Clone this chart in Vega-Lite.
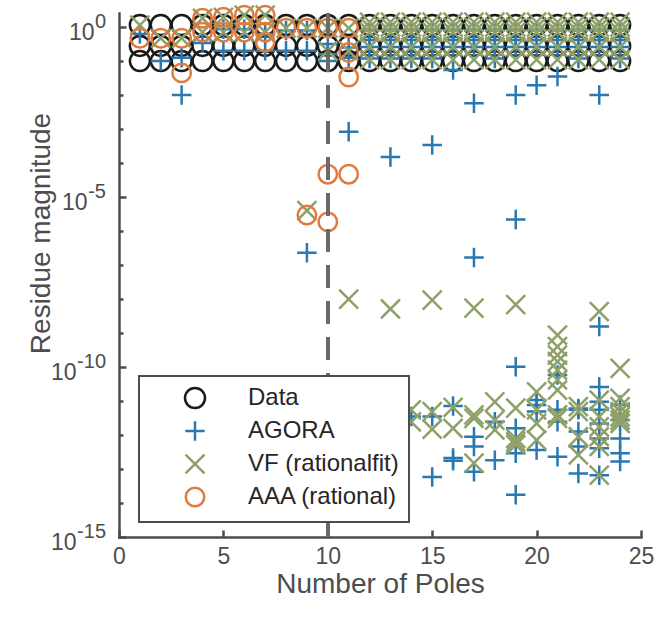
{
  "$schema": "https://vega.github.io/schema/vega-lite/v6.json",
  "width": 522,
  "height": 524,
  "autosize": {"type": "none"},
  "padding": {"left": 119, "top": 13, "right": 15, "bottom": 84},
  "background": "white",
  "config": {
    "view": {"stroke": null},
    "font": "Liberation Sans",
    "axis": {
      "domainColor": "#4d4d4d", "domainWidth": 2.5, "domainCap": "square",
      "tickColor": "#4d4d4d", "tickWidth": 2.5,
      "labelColor": "#4d4d4d", "labelFont": "Liberation Sans", "labelFontSize": 23,
      "titleColor": "#4d4d4d", "titleFont": "Liberation Sans", "titleFontSize": 28, "titleFontWeight": "normal",
      "labelFlush": false,
      "grid": false
    },
    "legend": {
      "orient": "none", "legendX": 20, "legendY": 363,
      "fillColor": "white", "strokeColor": "#4d4d4d", "strokeWidth": 2,
      "padding": 10, "rowPadding": 3,
      "symbolOffset": 34, "labelOffset": 41,
      "labelFont": "Liberation Sans", "labelFontSize": 24, "labelColor": "#262626",
      "symbolSize": 400, "symbolStrokeWidth": 2.5, "symbolFillColor": "transparent"
    }
  },
  "data": {"values": [
    {"poles":1,"method":"Data","residue":1.15},{"poles":1,"method":"Data","residue":0.28},{"poles":1,"method":"Data","residue":0.1},
    {"poles":2,"method":"Data","residue":1.15},{"poles":2,"method":"Data","residue":0.28},{"poles":2,"method":"Data","residue":0.1},
    {"poles":3,"method":"Data","residue":1.15},{"poles":3,"method":"Data","residue":0.28},{"poles":3,"method":"Data","residue":0.1},
    {"poles":4,"method":"Data","residue":1.15},{"poles":4,"method":"Data","residue":0.28},{"poles":4,"method":"Data","residue":0.1},
    {"poles":5,"method":"Data","residue":1.15},{"poles":5,"method":"Data","residue":0.28},{"poles":5,"method":"Data","residue":0.1},
    {"poles":6,"method":"Data","residue":1.15},{"poles":6,"method":"Data","residue":0.28},{"poles":6,"method":"Data","residue":0.1},
    {"poles":7,"method":"Data","residue":1.15},{"poles":7,"method":"Data","residue":0.28},{"poles":7,"method":"Data","residue":0.1},
    {"poles":8,"method":"Data","residue":1.15},{"poles":8,"method":"Data","residue":0.28},{"poles":8,"method":"Data","residue":0.1},
    {"poles":9,"method":"Data","residue":1.15},{"poles":9,"method":"Data","residue":0.28},{"poles":9,"method":"Data","residue":0.1},
    {"poles":10,"method":"Data","residue":1.15},{"poles":10,"method":"Data","residue":0.28},{"poles":10,"method":"Data","residue":0.1},
    {"poles":11,"method":"Data","residue":1.15},{"poles":11,"method":"Data","residue":0.28},{"poles":11,"method":"Data","residue":0.1},
    {"poles":12,"method":"Data","residue":1.15},{"poles":12,"method":"Data","residue":0.28},{"poles":12,"method":"Data","residue":0.1},
    {"poles":13,"method":"Data","residue":1.15},{"poles":13,"method":"Data","residue":0.28},{"poles":13,"method":"Data","residue":0.1},
    {"poles":14,"method":"Data","residue":1.15},{"poles":14,"method":"Data","residue":0.28},{"poles":14,"method":"Data","residue":0.1},
    {"poles":15,"method":"Data","residue":1.15},{"poles":15,"method":"Data","residue":0.28},{"poles":15,"method":"Data","residue":0.1},
    {"poles":16,"method":"Data","residue":1.15},{"poles":16,"method":"Data","residue":0.28},{"poles":16,"method":"Data","residue":0.1},
    {"poles":17,"method":"Data","residue":1.15},{"poles":17,"method":"Data","residue":0.28},{"poles":17,"method":"Data","residue":0.1},
    {"poles":18,"method":"Data","residue":1.15},{"poles":18,"method":"Data","residue":0.28},{"poles":18,"method":"Data","residue":0.1},
    {"poles":19,"method":"Data","residue":1.15},{"poles":19,"method":"Data","residue":0.28},{"poles":19,"method":"Data","residue":0.1},
    {"poles":20,"method":"Data","residue":1.15},{"poles":20,"method":"Data","residue":0.28},{"poles":20,"method":"Data","residue":0.1},
    {"poles":21,"method":"Data","residue":1.15},{"poles":21,"method":"Data","residue":0.28},{"poles":21,"method":"Data","residue":0.1},
    {"poles":22,"method":"Data","residue":1.15},{"poles":22,"method":"Data","residue":0.28},{"poles":22,"method":"Data","residue":0.1},
    {"poles":23,"method":"Data","residue":1.15},{"poles":23,"method":"Data","residue":0.28},{"poles":23,"method":"Data","residue":0.1},
    {"poles":24,"method":"Data","residue":1.15},{"poles":24,"method":"Data","residue":0.28},{"poles":24,"method":"Data","residue":0.1},

    {"poles":1,"method":"AGORA","residue":0.63},
    {"poles":2,"method":"AGORA","residue":0.1},
    {"poles":3,"method":"AGORA","residue":0.126},{"poles":3,"method":"AGORA","residue":0.01},
    {"poles":4,"method":"AGORA","residue":0.34},
    {"poles":5,"method":"AGORA","residue":0.2},{"poles":5,"method":"AGORA","residue":0.87},
    {"poles":6,"method":"AGORA","residue":0.2},{"poles":6,"method":"AGORA","residue":0.87},
    {"poles":7,"method":"AGORA","residue":0.2},{"poles":7,"method":"AGORA","residue":0.63},
    {"poles":8,"method":"AGORA","residue":0.2},{"poles":8,"method":"AGORA","residue":0.79},
    {"poles":9,"method":"AGORA","residue":0.2},{"poles":9,"method":"AGORA","residue":0.79},{"poles":9,"method":"AGORA","residue":2.3e-7},
    {"poles":10,"method":"AGORA","residue":0.32},{"poles":10,"method":"AGORA","residue":0.16},{"poles":10,"method":"AGORA","residue":0.1},
    {"poles":11,"method":"AGORA","residue":0.25},{"poles":11,"method":"AGORA","residue":0.126},{"poles":11,"method":"AGORA","residue":8.3e-4},
    {"poles":12,"method":"AGORA","residue":0.8},{"poles":12,"method":"AGORA","residue":0.42},{"poles":12,"method":"AGORA","residue":0.26},{"poles":12,"method":"AGORA","residue":0.12},
    {"poles":13,"method":"AGORA","residue":0.8},{"poles":13,"method":"AGORA","residue":0.42},{"poles":13,"method":"AGORA","residue":0.26},{"poles":13,"method":"AGORA","residue":0.12},{"poles":13,"method":"AGORA","residue":1.5e-4},
    {"poles":14,"method":"AGORA","residue":0.8},{"poles":14,"method":"AGORA","residue":0.42},{"poles":14,"method":"AGORA","residue":0.26},{"poles":14,"method":"AGORA","residue":0.12},{"poles":14,"method":"AGORA","residue":3.5e-12},
    {"poles":15,"method":"AGORA","residue":0.8},{"poles":15,"method":"AGORA","residue":0.42},{"poles":15,"method":"AGORA","residue":0.26},{"poles":15,"method":"AGORA","residue":0.12},{"poles":15,"method":"AGORA","residue":3.4e-4},{"poles":15,"method":"AGORA","residue":3.5e-12},{"poles":15,"method":"AGORA","residue":5.8e-14},
    {"poles":16,"method":"AGORA","residue":0.8},{"poles":16,"method":"AGORA","residue":0.42},{"poles":16,"method":"AGORA","residue":0.26},{"poles":16,"method":"AGORA","residue":0.055},{"poles":16,"method":"AGORA","residue":7.1e-12},{"poles":16,"method":"AGORA","residue":2.1e-13},{"poles":16,"method":"AGORA","residue":1.74e-13},
    {"poles":17,"method":"AGORA","residue":0.8},{"poles":17,"method":"AGORA","residue":0.42},{"poles":17,"method":"AGORA","residue":0.26},{"poles":17,"method":"AGORA","residue":5.8e-3},{"poles":17,"method":"AGORA","residue":1.66e-7},{"poles":17,"method":"AGORA","residue":8.9e-13},{"poles":17,"method":"AGORA","residue":4.6e-13},{"poles":17,"method":"AGORA","residue":8.3e-14},
    {"poles":18,"method":"AGORA","residue":0.8},{"poles":18,"method":"AGORA","residue":0.42},{"poles":18,"method":"AGORA","residue":0.26},{"poles":18,"method":"AGORA","residue":0.12},{"poles":18,"method":"AGORA","residue":2.45e-12},{"poles":18,"method":"AGORA","residue":1.8e-13},
    {"poles":19,"method":"AGORA","residue":0.8},{"poles":19,"method":"AGORA","residue":0.42},{"poles":19,"method":"AGORA","residue":0.26},{"poles":19,"method":"AGORA","residue":0.01},{"poles":19,"method":"AGORA","residue":2.2e-6},{"poles":19,"method":"AGORA","residue":1.02e-10},{"poles":19,"method":"AGORA","residue":1.58e-12},{"poles":19,"method":"AGORA","residue":2.9e-13},{"poles":19,"method":"AGORA","residue":1.74e-14},
    {"poles":20,"method":"AGORA","residue":0.8},{"poles":20,"method":"AGORA","residue":0.42},{"poles":20,"method":"AGORA","residue":0.26},{"poles":20,"method":"AGORA","residue":0.0195},{"poles":20,"method":"AGORA","residue":1.07e-11},{"poles":20,"method":"AGORA","residue":7.6e-12},{"poles":20,"method":"AGORA","residue":4.9e-12},{"poles":20,"method":"AGORA","residue":3.6e-13},
    {"poles":21,"method":"AGORA","residue":0.8},{"poles":21,"method":"AGORA","residue":0.42},{"poles":21,"method":"AGORA","residue":0.26},{"poles":21,"method":"AGORA","residue":0.035},{"poles":21,"method":"AGORA","residue":5.8e-11},{"poles":21,"method":"AGORA","residue":5.5e-12},{"poles":21,"method":"AGORA","residue":2.45e-12},{"poles":21,"method":"AGORA","residue":2.3e-13},
    {"poles":22,"method":"AGORA","residue":0.8},{"poles":22,"method":"AGORA","residue":0.42},{"poles":22,"method":"AGORA","residue":0.26},{"poles":22,"method":"AGORA","residue":0.12},{"poles":22,"method":"AGORA","residue":6.0e-12},{"poles":22,"method":"AGORA","residue":5.5e-12},{"poles":22,"method":"AGORA","residue":1.26e-12},{"poles":22,"method":"AGORA","residue":4.6e-13},{"poles":22,"method":"AGORA","residue":7.4e-14},
    {"poles":23,"method":"AGORA","residue":0.8},{"poles":23,"method":"AGORA","residue":0.42},{"poles":23,"method":"AGORA","residue":0.26},{"poles":23,"method":"AGORA","residue":0.01},{"poles":23,"method":"AGORA","residue":1.55e-9},{"poles":23,"method":"AGORA","residue":2.6e-11},{"poles":23,"method":"AGORA","residue":9.5e-12},{"poles":23,"method":"AGORA","residue":5.5e-12},{"poles":23,"method":"AGORA","residue":2.2e-12},{"poles":23,"method":"AGORA","residue":7.9e-13},{"poles":23,"method":"AGORA","residue":4.1e-13},{"poles":23,"method":"AGORA","residue":6.6e-14},
    {"poles":24,"method":"AGORA","residue":0.8},{"poles":24,"method":"AGORA","residue":0.42},{"poles":24,"method":"AGORA","residue":0.26},{"poles":24,"method":"AGORA","residue":0.12},{"poles":24,"method":"AGORA","residue":7.6e-12},{"poles":24,"method":"AGORA","residue":2.75e-12},{"poles":24,"method":"AGORA","residue":7.9e-13},{"poles":24,"method":"AGORA","residue":2.9e-13},{"poles":24,"method":"AGORA","residue":1.66e-13},

    {"poles":1,"method":"VF (rationalfit)","residue":1.15},
    {"poles":2,"method":"VF (rationalfit)","residue":0.47},
    {"poles":3,"method":"VF (rationalfit)","residue":0.47},
    {"poles":4,"method":"VF (rationalfit)","residue":1.82},{"poles":4,"method":"VF (rationalfit)","residue":0.71},
    {"poles":5,"method":"VF (rationalfit)","residue":1.95},{"poles":5,"method":"VF (rationalfit)","residue":0.71},
    {"poles":6,"method":"VF (rationalfit)","residue":2.24},{"poles":6,"method":"VF (rationalfit)","residue":0.71},
    {"poles":7,"method":"VF (rationalfit)","residue":2.24},{"poles":7,"method":"VF (rationalfit)","residue":0.71},
    {"poles":8,"method":"VF (rationalfit)","residue":0.93},
    {"poles":9,"method":"VF (rationalfit)","residue":0.93},{"poles":9,"method":"VF (rationalfit)","residue":4.0e-6},
    {"poles":10,"method":"VF (rationalfit)","residue":0.93},{"poles":10,"method":"VF (rationalfit)","residue":0.2},
    {"poles":11,"method":"VF (rationalfit)","residue":0.93},{"poles":11,"method":"VF (rationalfit)","residue":0.2},{"poles":11,"method":"VF (rationalfit)","residue":1e-8},
    {"poles":12,"method":"VF (rationalfit)","residue":1.4},{"poles":12,"method":"VF (rationalfit)","residue":1.0},{"poles":12,"method":"VF (rationalfit)","residue":0.71},{"poles":12,"method":"VF (rationalfit)","residue":0.26},{"poles":12,"method":"VF (rationalfit)","residue":0.11},
    {"poles":13,"method":"VF (rationalfit)","residue":1.4},{"poles":13,"method":"VF (rationalfit)","residue":1.0},{"poles":13,"method":"VF (rationalfit)","residue":0.71},{"poles":13,"method":"VF (rationalfit)","residue":0.26},{"poles":13,"method":"VF (rationalfit)","residue":0.11},{"poles":13,"method":"VF (rationalfit)","residue":5.1e-9},
    {"poles":14,"method":"VF (rationalfit)","residue":1.4},{"poles":14,"method":"VF (rationalfit)","residue":1.0},{"poles":14,"method":"VF (rationalfit)","residue":0.71},{"poles":14,"method":"VF (rationalfit)","residue":0.26},{"poles":14,"method":"VF (rationalfit)","residue":0.11},{"poles":14,"method":"VF (rationalfit)","residue":5.5e-12},{"poles":14,"method":"VF (rationalfit)","residue":2.45e-12},
    {"poles":15,"method":"VF (rationalfit)","residue":1.4},{"poles":15,"method":"VF (rationalfit)","residue":1.0},{"poles":15,"method":"VF (rationalfit)","residue":0.71},{"poles":15,"method":"VF (rationalfit)","residue":0.26},{"poles":15,"method":"VF (rationalfit)","residue":0.11},{"poles":15,"method":"VF (rationalfit)","residue":9.3e-9},{"poles":15,"method":"VF (rationalfit)","residue":4.9e-12},{"poles":15,"method":"VF (rationalfit)","residue":1.48e-12},
    {"poles":16,"method":"VF (rationalfit)","residue":1.4},{"poles":16,"method":"VF (rationalfit)","residue":1.0},{"poles":16,"method":"VF (rationalfit)","residue":0.71},{"poles":16,"method":"VF (rationalfit)","residue":0.26},{"poles":16,"method":"VF (rationalfit)","residue":0.11},{"poles":16,"method":"VF (rationalfit)","residue":6.5e-12},{"poles":16,"method":"VF (rationalfit)","residue":1.58e-12},
    {"poles":17,"method":"VF (rationalfit)","residue":1.4},{"poles":17,"method":"VF (rationalfit)","residue":1.0},{"poles":17,"method":"VF (rationalfit)","residue":0.71},{"poles":17,"method":"VF (rationalfit)","residue":0.26},{"poles":17,"method":"VF (rationalfit)","residue":0.11},{"poles":17,"method":"VF (rationalfit)","residue":5.4e-9},{"poles":17,"method":"VF (rationalfit)","residue":3.9e-12},{"poles":17,"method":"VF (rationalfit)","residue":3.1e-12},{"poles":17,"method":"VF (rationalfit)","residue":1.48e-13},
    {"poles":18,"method":"VF (rationalfit)","residue":1.4},{"poles":18,"method":"VF (rationalfit)","residue":1.0},{"poles":18,"method":"VF (rationalfit)","residue":0.71},{"poles":18,"method":"VF (rationalfit)","residue":0.26},{"poles":18,"method":"VF (rationalfit)","residue":0.11},{"poles":18,"method":"VF (rationalfit)","residue":9.5e-12},{"poles":18,"method":"VF (rationalfit)","residue":2.75e-12},{"poles":18,"method":"VF (rationalfit)","residue":1.41e-12},
    {"poles":19,"method":"VF (rationalfit)","residue":1.4},{"poles":19,"method":"VF (rationalfit)","residue":1.0},{"poles":19,"method":"VF (rationalfit)","residue":0.71},{"poles":19,"method":"VF (rationalfit)","residue":0.26},{"poles":19,"method":"VF (rationalfit)","residue":0.11},{"poles":19,"method":"VF (rationalfit)","residue":6.9e-9},{"poles":19,"method":"VF (rationalfit)","residue":6.2e-12},{"poles":19,"method":"VF (rationalfit)","residue":7.9e-13},{"poles":19,"method":"VF (rationalfit)","residue":6.3e-13},{"poles":19,"method":"VF (rationalfit)","residue":5.1e-13},
    {"poles":20,"method":"VF (rationalfit)","residue":1.4},{"poles":20,"method":"VF (rationalfit)","residue":1.0},{"poles":20,"method":"VF (rationalfit)","residue":0.71},{"poles":20,"method":"VF (rationalfit)","residue":0.26},{"poles":20,"method":"VF (rationalfit)","residue":0.11},{"poles":20,"method":"VF (rationalfit)","residue":1.86e-11},{"poles":20,"method":"VF (rationalfit)","residue":5.5e-12},{"poles":20,"method":"VF (rationalfit)","residue":2.2e-12},{"poles":20,"method":"VF (rationalfit)","residue":7.1e-13},
    {"poles":21,"method":"VF (rationalfit)","residue":1.4},{"poles":21,"method":"VF (rationalfit)","residue":1.0},{"poles":21,"method":"VF (rationalfit)","residue":0.71},{"poles":21,"method":"VF (rationalfit)","residue":0.26},{"poles":21,"method":"VF (rationalfit)","residue":0.11},{"poles":21,"method":"VF (rationalfit)","residue":8.7e-10},{"poles":21,"method":"VF (rationalfit)","residue":4.0e-10},{"poles":21,"method":"VF (rationalfit)","residue":2.24e-10},{"poles":21,"method":"VF (rationalfit)","residue":1.45e-10},{"poles":21,"method":"VF (rationalfit)","residue":8.1e-11},{"poles":21,"method":"VF (rationalfit)","residue":4.2e-11},{"poles":21,"method":"VF (rationalfit)","residue":2.1e-11},{"poles":21,"method":"VF (rationalfit)","residue":3.9e-12},{"poles":21,"method":"VF (rationalfit)","residue":3.1e-12},
    {"poles":22,"method":"VF (rationalfit)","residue":1.4},{"poles":22,"method":"VF (rationalfit)","residue":1.0},{"poles":22,"method":"VF (rationalfit)","residue":0.71},{"poles":22,"method":"VF (rationalfit)","residue":0.26},{"poles":22,"method":"VF (rationalfit)","residue":0.11},{"poles":22,"method":"VF (rationalfit)","residue":6.8e-12},{"poles":22,"method":"VF (rationalfit)","residue":4.9e-12},{"poles":22,"method":"VF (rationalfit)","residue":8.9e-13},{"poles":22,"method":"VF (rationalfit)","residue":2.6e-13},
    {"poles":23,"method":"VF (rationalfit)","residue":1.4},{"poles":23,"method":"VF (rationalfit)","residue":1.0},{"poles":23,"method":"VF (rationalfit)","residue":0.71},{"poles":23,"method":"VF (rationalfit)","residue":0.26},{"poles":23,"method":"VF (rationalfit)","residue":0.11},{"poles":23,"method":"VF (rationalfit)","residue":4.3e-9},{"poles":23,"method":"VF (rationalfit)","residue":1.07e-11},{"poles":23,"method":"VF (rationalfit)","residue":3.5e-12},{"poles":23,"method":"VF (rationalfit)","residue":1.74e-12},{"poles":23,"method":"VF (rationalfit)","residue":8.9e-13},{"poles":23,"method":"VF (rationalfit)","residue":4.6e-13},{"poles":23,"method":"VF (rationalfit)","residue":6.6e-14},
    {"poles":24,"method":"VF (rationalfit)","residue":1.4},{"poles":24,"method":"VF (rationalfit)","residue":1.0},{"poles":24,"method":"VF (rationalfit)","residue":0.71},{"poles":24,"method":"VF (rationalfit)","residue":0.26},{"poles":24,"method":"VF (rationalfit)","residue":0.11},{"poles":24,"method":"VF (rationalfit)","residue":9.1e-11},{"poles":24,"method":"VF (rationalfit)","residue":1.2e-11},{"poles":24,"method":"VF (rationalfit)","residue":6.8e-12},{"poles":24,"method":"VF (rationalfit)","residue":4.9e-12},{"poles":24,"method":"VF (rationalfit)","residue":3.5e-12},{"poles":24,"method":"VF (rationalfit)","residue":2.75e-12},{"poles":24,"method":"VF (rationalfit)","residue":2.2e-12},

    {"poles":1,"method":"AAA (rational)","residue":0.47},
    {"poles":2,"method":"AAA (rational)","residue":0.47},
    {"poles":3,"method":"AAA (rational)","residue":0.47},{"poles":3,"method":"AAA (rational)","residue":0.045},
    {"poles":4,"method":"AAA (rational)","residue":1.82},{"poles":4,"method":"AAA (rational)","residue":0.71},
    {"poles":5,"method":"AAA (rational)","residue":1.95},{"poles":5,"method":"AAA (rational)","residue":0.71},
    {"poles":6,"method":"AAA (rational)","residue":2.24},{"poles":6,"method":"AAA (rational)","residue":0.71},
    {"poles":7,"method":"AAA (rational)","residue":2.24},{"poles":7,"method":"AAA (rational)","residue":0.71},{"poles":7,"method":"AAA (rational)","residue":0.36},
    {"poles":8,"method":"AAA (rational)","residue":0.93},
    {"poles":9,"method":"AAA (rational)","residue":0.93},{"poles":9,"method":"AAA (rational)","residue":2.95e-6},
    {"poles":10,"method":"AAA (rational)","residue":0.93},{"poles":10,"method":"AAA (rational)","residue":4.7e-5},{"poles":10,"method":"AAA (rational)","residue":1.86e-6},
    {"poles":11,"method":"AAA (rational)","residue":0.93},{"poles":11,"method":"AAA (rational)","residue":0.18},{"poles":11,"method":"AAA (rational)","residue":0.034},{"poles":11,"method":"AAA (rational)","residue":4.7e-5}
  ]},
  "layer": [
    {
      "mark": {"type": "point", "filled": false, "strokeWidth": 2.5, "opacity": 1},
      "encoding": {
        "x": {
          "field": "poles", "type": "quantitative",
          "scale": {"domain": [0, 25], "nice": false, "zero": false},
          "axis": {
            "title": "Number of Poles", "values": [0, 5, 10, 15, 20, 25],
            "tickSize": -7, "labelPadding": 15,
            "titleY": 55, "titleBaseline": "alphabetic"
          }
        },
        "y": {
          "field": "residue", "type": "quantitative",
          "scale": {"type": "log", "domain": [1e-15, 2.6], "nice": false},
          "axis": {
            "title": "Residue magnitude",
            "titleX": -70, "titleY": 220, "titleBaseline": "alphabetic", "titleAngle": -90,
            "values": [1e-15, 1e-14, 1e-13, 1e-12, 1e-11, 1e-10, 1e-9, 1e-8, 1e-7, 1e-6, 1e-5, 1e-4, 1e-3, 1e-2, 1e-1, 1],
            "labelExpr": "round(log(datum.value)/LN10) % 5 == 0 ? '10' : ''",
            "labelOffset": 5,
            "tickSize": {"condition": {"test": "round(log(datum.value)/LN10) % 5 == 0", "value": -7}, "value": -4},
            "labelPadding": {
              "condition": [
                {"test": "round(log(datum.value)/LN10) == 0", "value": 32},
                {"test": "round(log(datum.value)/LN10) == -5", "value": 39}
              ],
              "value": 50
            }
          }
        },
        "color": {
          "field": "method", "type": "nominal",
          "scale": {
            "domain": ["Data", "AGORA", "VF (rationalfit)", "AAA (rational)"],
            "range": ["#1a1a1a", "#2a78b0", "#8fa068", "#dd7c3e"]
          },
          "legend": {"title": null}
        },
        "shape": {
          "field": "method", "type": "nominal",
          "scale": {
            "domain": ["Data", "AGORA", "VF (rationalfit)", "AAA (rational)"],
            "range": ["circle", "M-1,0H1M0,-1V1", "M-1,-1L1,1M-1,1L1,-1", "circle"]
          },
          "legend": {"title": null}
        },
        "size": {
          "field": "method", "type": "nominal",
          "scale": {
            "domain": ["Data", "AGORA", "VF (rationalfit)", "AAA (rational)"],
            "range": [400, 340, 230, 400]
          },
          "legend": null
        }
      }
    },
    {
      "mark": {"type": "rule", "color": "#6b6b6b", "strokeWidth": 2.5, "strokeDash": [23, 13]},
      "encoding": {"x": {"datum": 10}}
    },
    {
      "data": {"values": [
        {"tick": 1, "exponent": "0"},
        {"tick": 1e-5, "exponent": "-5"},
        {"tick": 1e-10, "exponent": "-10"},
        {"tick": 1e-15, "exponent": "-15"}
      ]},
      "mark": {"type": "text", "align": "right", "baseline": "middle", "dx": -13, "dy": -5, "fontSize": 20, "font": "Liberation Sans", "color": "#4d4d4d"},
      "encoding": {
        "x": {"datum": 0},
        "y": {"field": "tick", "type": "quantitative"},
        "text": {"field": "exponent"}
      }
    }
  ]
}
